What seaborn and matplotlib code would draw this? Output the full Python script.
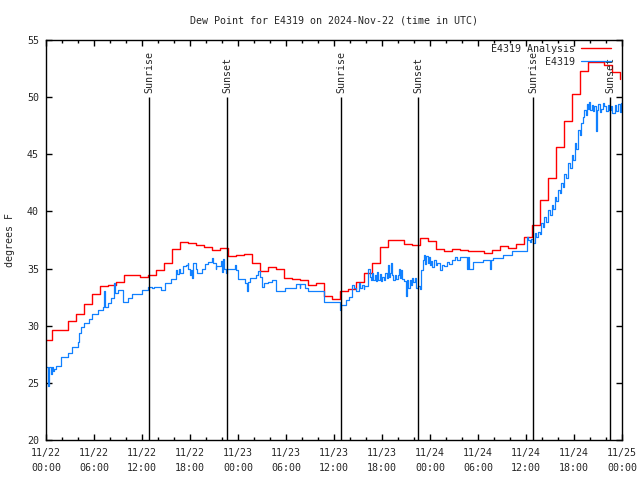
import numpy as np
import pandas as pd
import matplotlib
matplotlib.use('Agg')
import matplotlib.pyplot as plt
import seaborn as sns

# hours since 2024-11-22 00:00 UTC

# hourly analysis, each value starts at hh:45
analysis_hours = np.arange(-0.25, 72.0, 1.0)
analysis_vals = [
    28.75, 29.6, 29.6, 30.4, 31.0, 31.9, 32.8, 33.5, 33.55, 33.8,
    34.4, 34.4, 34.25, 34.4, 34.85, 35.45, 36.7, 37.3, 37.2, 37.1,
    36.85, 36.65, 36.8, 36.1, 36.2, 36.25, 35.45, 34.75, 35.1, 34.95,
    34.15, 34.05, 34.0, 33.55, 33.7, 32.6, 32.3, 33.05, 33.25, 33.85,
    34.6, 35.45, 36.85, 37.5, 37.5, 37.15, 37.05, 37.65, 37.4, 36.7,
    36.5, 36.7, 36.6, 36.55, 36.5, 36.4, 36.6, 36.95, 36.8, 37.15,
    37.8, 38.8, 41.0, 42.9, 45.6, 47.9, 50.3, 52.3, 53.1, 53.1,
    52.8, 52.2, 51.6,
]

# station observations
obs_hours = [
    0.0, 0.3, 0.4, 0.6, 0.7, 0.9, 1.05, 1.25, 1.9, 2.7, 3.3, 3.95, 4.15, 4.4,
    4.8, 5.4, 5.8, 6.45, 7.1, 7.3, 7.35, 7.7, 8.1, 8.5, 8.6, 8.95, 9.6, 10.2,
    10.8, 12.05, 12.7, 13.3, 13.5, 14.4, 14.9, 15.6, 16.25, 16.4, 16.6, 16.8,
    17.1, 17.5, 17.7, 17.8,
    18.0, 18.15, 18.25, 18.35, 18.8, 18.9, 19.45, 19.9, 20.3, 20.7, 20.85,
    21.0, 21.2, 21.3, 21.9, 22.05, 22.15, 22.3, 22.5, 22.6, 23.6, 23.8, 24.0,
    24.9, 25.1, 25.15, 25.3, 25.45, 26.3, 26.5, 26.75, 27.0, 27.2, 27.7, 28.3,
    28.8, 29.9, 31.3, 31.7, 31.8, 32.4, 32.7, 34.7,
    36.8, 36.9, 37.45, 37.9, 38.3, 38.5, 38.8, 39.1, 39.3, 39.5, 39.7, 39.8,
    40.2, 40.3, 40.45, 40.6, 40.75, 40.9, 41.1, 41.25, 41.4, 41.55, 41.7,
    41.85, 42.0, 42.2, 42.4, 42.6, 42.75, 42.85, 43.0, 43.1, 43.25, 43.4,
    43.6, 43.8, 43.95, 44.1, 44.2, 44.35, 44.5, 44.75, 44.95, 45.1, 45.3,
    45.45, 45.6, 45.75, 45.9, 46.1, 46.25, 46.5, 46.7, 46.9, 47.1, 47.25,
    47.4, 47.55, 47.7, 47.85, 48.0, 48.15, 48.3, 48.5, 48.7, 48.9, 49.3,
    49.5, 49.75, 50.1, 50.4, 50.7, 51.1, 51.4, 51.75, 52.6, 52.8, 52.9, 53.4,
    54.6, 55.5, 55.65, 55.9, 57.1, 58.2, 60.15, 60.25, 60.5, 60.6, 60.9,
    61.1, 61.3, 61.5, 61.7, 61.9, 62.1, 62.3, 62.5, 62.75, 62.95, 63.2, 63.4,
    63.6, 63.8, 64.0, 64.2, 64.4, 64.6, 64.8, 65.0, 65.25, 65.45, 65.7, 65.9,
    66.1, 66.3, 66.5, 66.7, 66.9, 67.1, 67.3, 67.45, 67.6, 67.75, 67.9, 68.05,
    68.2, 68.35, 68.5, 68.75, 68.85, 69.0, 69.2, 69.4, 69.6, 69.8, 70.0,
    70.2, 70.4, 70.6, 70.8, 71.1, 71.3, 71.5, 71.7, 71.85, 72.0,
]
obs_vals = [
    26.4, 24.7, 26.4, 25.8, 26.4, 26.0, 26.2, 26.5, 27.3, 27.6, 28.1, 28.55, 29.4, 29.85,
    30.2, 30.55, 31.0, 31.35, 31.65, 33.0, 31.65, 32.0, 32.4, 33.7, 32.85, 33.1, 32.1, 32.45,
    32.75, 33.1, 33.4, 33.3, 33.4, 33.1, 33.7, 34.05, 34.9, 34.5, 35.0, 34.6,
    35.2, 35.3, 35.5, 35.0,
    34.4, 34.9, 34.2, 35.45, 35.0, 34.6, 35.0, 35.4, 35.6, 35.95, 35.5,
    35.45, 35.0, 35.2, 35.7, 34.7, 35.8, 35.0, 34.6, 35.0, 35.3, 34.9, 34.05,
    33.7, 33.3, 33.0, 33.8, 34.15, 34.45, 34.75, 34.3, 33.4, 33.7, 33.85, 34.0,
    33.0, 33.3, 33.65, 33.3, 33.65, 33.3, 33.05, 32.1,
    31.4, 31.8, 32.25, 32.5, 33.55, 33.3, 33.0, 33.7, 33.3, 33.6, 33.2, 33.5,
    34.6, 35.0, 34.3, 34.0, 34.6, 34.0, 34.4, 33.9, 34.7, 34.0, 34.5,
    33.9, 34.3, 34.0, 34.6, 34.2, 35.3, 34.3, 34.6, 35.5, 34.4, 34.0,
    34.4, 34.1, 34.4, 35.0, 34.2, 34.9, 34.1, 33.9, 32.6, 34.0, 33.3,
    34.0, 33.6, 34.2, 33.8, 34.2, 33.3, 33.5, 33.2, 34.9, 35.75, 36.2,
    35.4, 36.1, 35.5, 36.0, 35.3, 35.7, 35.1, 35.75, 35.3, 35.45, 34.9,
    35.3, 35.2, 35.6, 35.4, 35.75, 36.05, 35.75, 36.05, 34.95, 36.0, 34.95, 35.6,
    35.75, 34.95, 35.75, 35.9, 36.2, 36.5, 37.8, 37.5, 37.3, 37.6, 37.2,
    38.1, 37.8, 38.2, 38.0, 39.0, 38.6, 39.5, 39.1, 40.1, 39.7, 40.55, 40.2,
    41.3, 40.9, 41.9, 41.6, 42.45, 42.1, 43.3, 42.9, 44.2, 43.8, 44.9, 44.5,
    45.95, 45.5, 47.1, 46.7, 47.7, 48.3, 48.9, 48.4, 49.4, 49.0, 49.6, 48.9,
    49.3, 48.8, 49.2, 47.0, 48.9, 49.4, 48.7, 49.0, 49.5, 49.2, 48.8,
    49.3, 48.9, 49.2, 48.6, 49.3, 48.8, 49.4, 48.7, 49.5, 49.0,
]

sun_hours = [12.9, 22.65, 36.9, 46.55, 60.88, 70.55]
sun_labels = ['Sunrise', 'Sunset', 'Sunrise', 'Sunset', 'Sunrise', 'Sunset']

tick_hours = list(range(0, 73, 6))
tick_labels = ['11/22\n00:00', '11/22\n06:00', '11/22\n12:00', '11/22\n18:00',
               '11/23\n00:00', '11/23\n06:00', '11/23\n12:00', '11/23\n18:00',
               '11/24\n00:00', '11/24\n06:00', '11/24\n12:00', '11/24\n18:00',
               '11/25\n00:00']

analysis = pd.DataFrame({'hour': analysis_hours, 'dewpt': analysis_vals})
obs = pd.DataFrame({'hour': obs_hours, 'dewpt': obs_vals})

sns.set_style('ticks')
plt.rcParams['font.family'] = ['DejaVu Sans Mono']
plt.rcParams['font.size'] = 7.2

fig = plt.figure(figsize=(6.4, 4.8), dpi=100)
ax = fig.add_axes([46 / 640, 40 / 480, 576 / 640, 400 / 480])

sns.lineplot(data=analysis, x='hour', y='dewpt', ax=ax, color='#ff0000', lw=1.0,
             drawstyle='steps-post', estimator=None, sort=False, label='E4319 Analysis')
sns.lineplot(data=obs, x='hour', y='dewpt', ax=ax, color='#1080ff', lw=0.9,
             drawstyle='steps-post', estimator=None, sort=False, label='E4319')

ax.vlines(sun_hours, 20, 50, color='black', lw=1.0)
for h, lab in zip(sun_hours, sun_labels):
    ax.text(h, 50.4, lab, rotation=90, ha='center', va='bottom', fontsize=7.2)

ax.set_xlim(0, 72)
ax.set_ylim(20, 55)
ax.set_xticks(tick_hours)
ax.set_xticklabels(tick_labels)
for t in ax.get_xticklabels():
    t.set_linespacing(1.55)
ax.set_xticks(range(0, 73, 2), minor=True)
ax.set_yticks(range(20, 56, 5))
ax.tick_params(which='both', direction='in', top=True, right=True, labelsize=7.2,
               color='black', width=1.0)
ax.tick_params(which='major', length=4)
ax.tick_params(axis='x', which='major', pad=6)
ax.tick_params(axis='y', which='major', pad=5)
ax.tick_params(which='minor', length=2)
for sp in ax.spines.values():
    sp.set_color('black')
    sp.set_linewidth(1.0)

ax.set_xlabel('')
ax.set_ylabel('degrees F', fontsize=7.2, labelpad=9)
ax.set_title('Dew Point for E4319 on 2024-Nov-22 (time in UTC)', fontsize=7.2, pad=12)

ax.legend(loc='upper right', bbox_to_anchor=(1 - 9 / 576, 1 - 2 / 400), frameon=False,
          markerfirst=False, fontsize=7.2, handlelength=3.0, handletextpad=0.6,
          labelspacing=0.3, borderaxespad=0, borderpad=0.2)

fig.savefig('out.png', dpi=100)
